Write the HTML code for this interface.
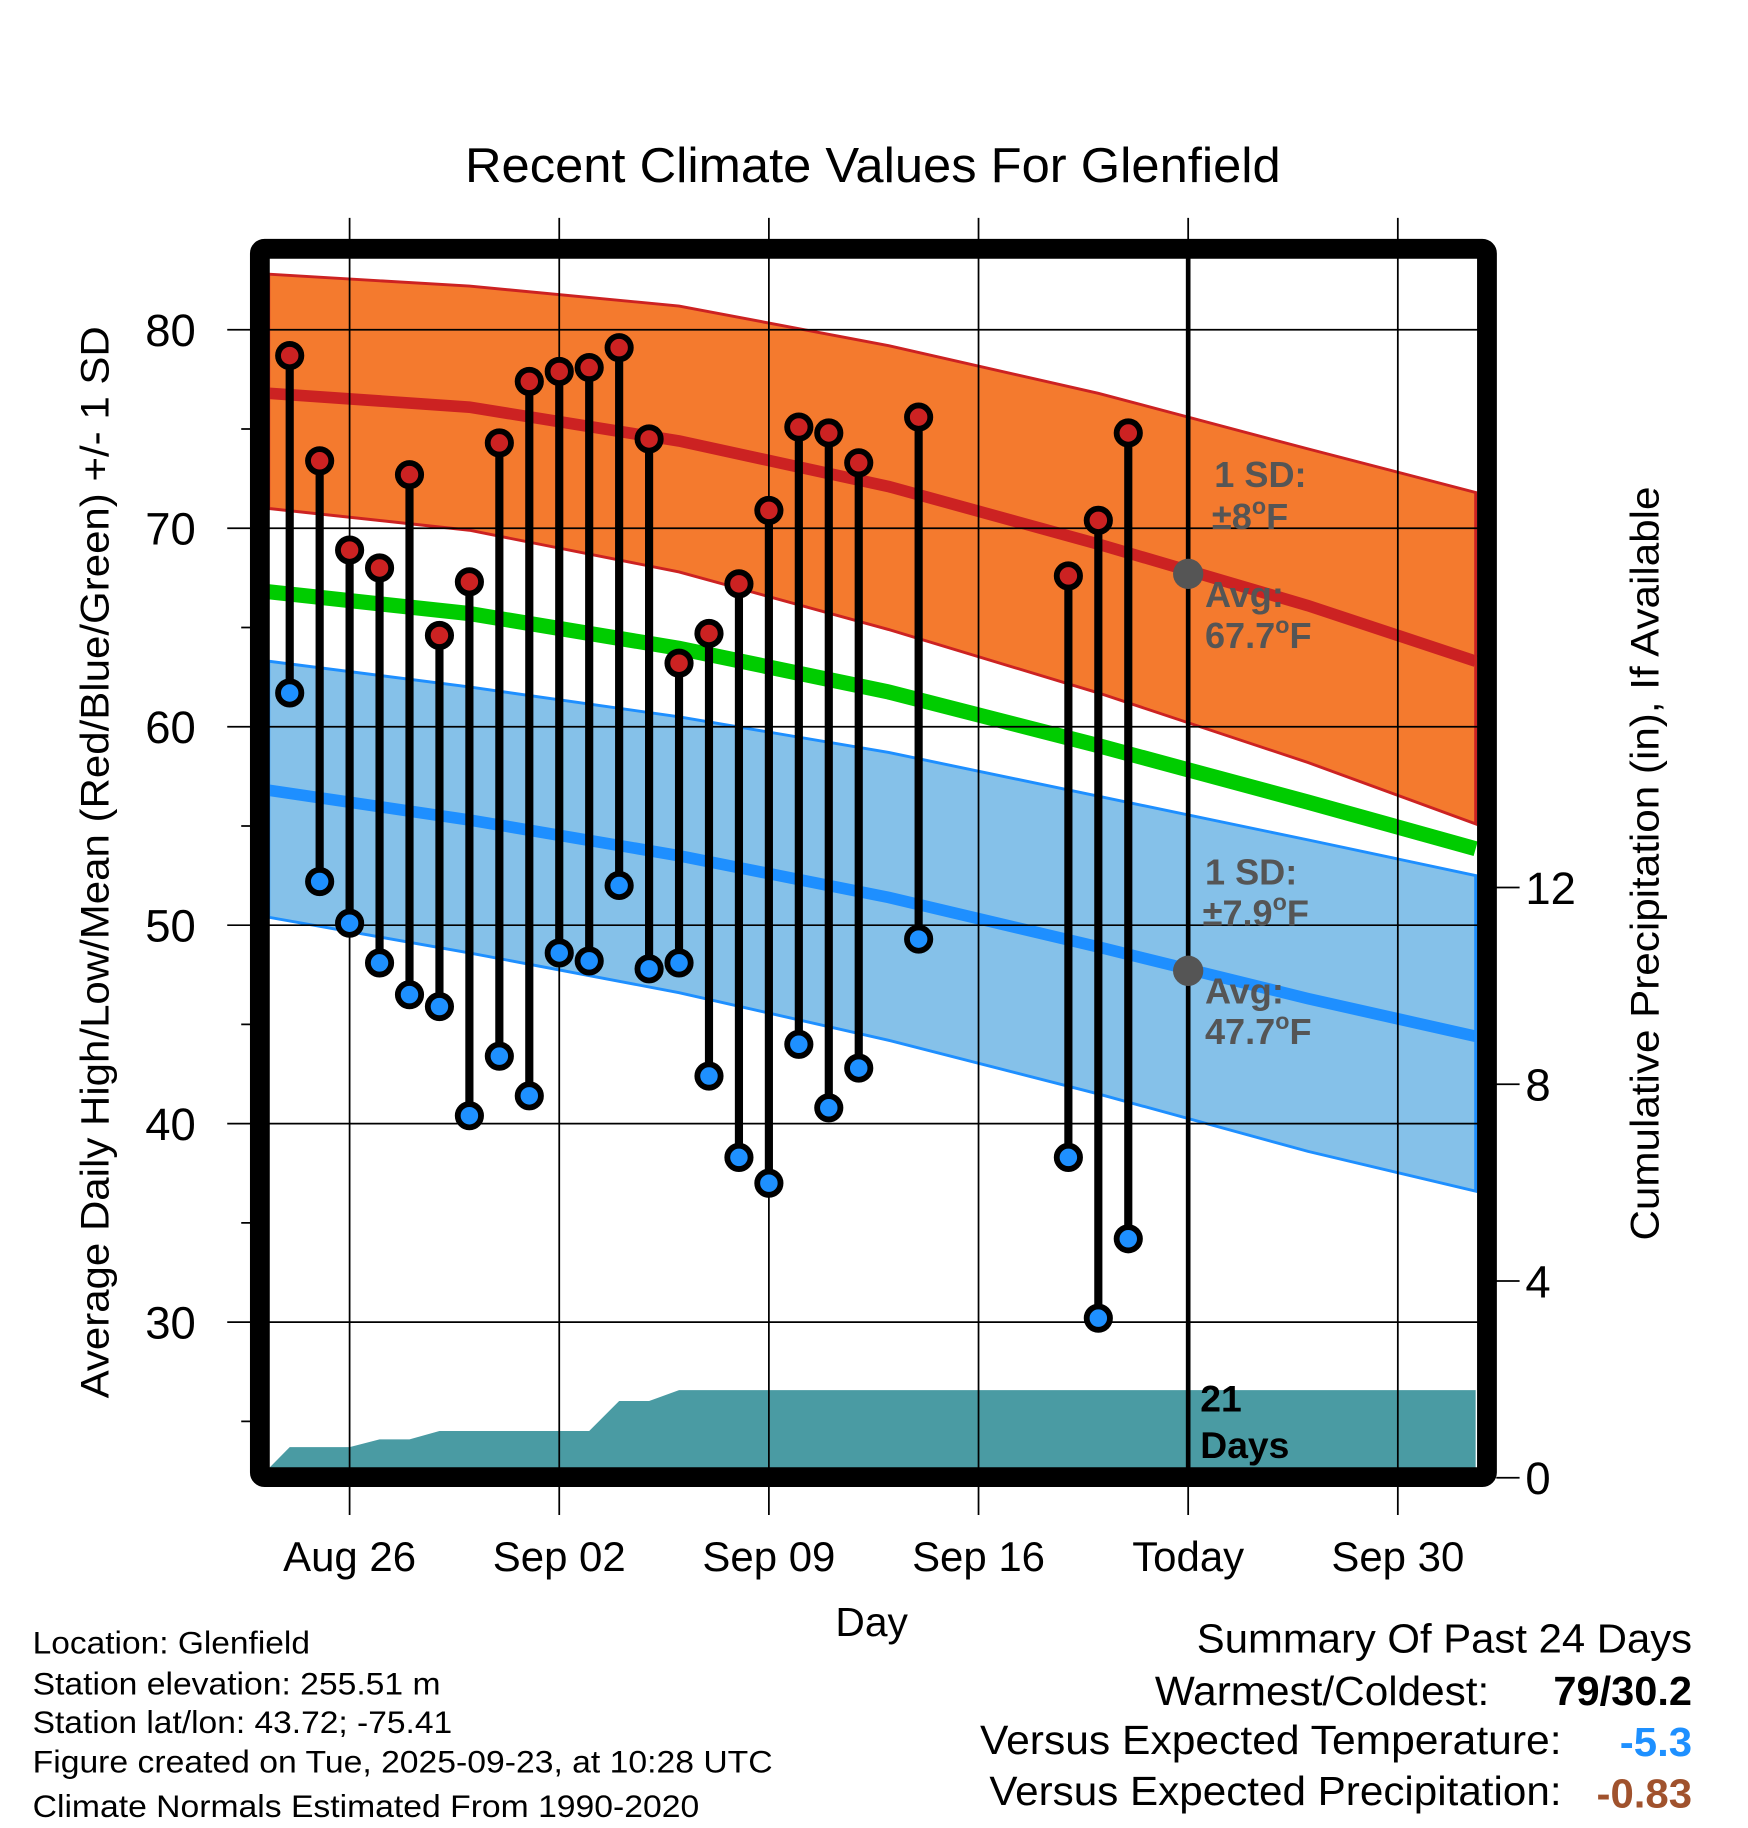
<!DOCTYPE html>
<html><head><meta charset="utf-8"><style>
html,body{margin:0;padding:0;background:#fff}
svg{display:block}
text{font-family:"Liberation Sans",Arial,sans-serif}
</style></head><body>
<svg id="chart" width="1748" height="1828" viewBox="0 0 1500 1568.6" preserveAspectRatio="none" xmlns="http://www.w3.org/2000/svg">
<text x="399" y="156" font-size="42" textLength="700" lengthAdjust="spacingAndGlyphs">Recent Climate Values For Glenfield</text>
<g id="plot"></g>
<text transform="translate(93,740) rotate(-90)" font-size="34" text-anchor="middle" textLength="920" lengthAdjust="spacingAndGlyphs">Average Daily High/Low/Mean (Red/Blue/Green) +/- 1 SD</text>
<text transform="translate(1423,741) rotate(-90)" font-size="34" text-anchor="middle" textLength="647" lengthAdjust="spacingAndGlyphs">Cumulative Precipitation (in), If Available</text>
<text x="748" y="1404" font-size="35" text-anchor="middle">Day</text>
<g font-size="27">
<text x="28" y="1419" textLength="238" lengthAdjust="spacingAndGlyphs">Location: Glenfield</text>
<text x="28" y="1454" textLength="350" lengthAdjust="spacingAndGlyphs">Station elevation: 255.51 m</text>
<text x="28" y="1487" textLength="360" lengthAdjust="spacingAndGlyphs">Station lat/lon: 43.72; -75.41</text>
<text x="28" y="1521" textLength="635" lengthAdjust="spacingAndGlyphs">Figure created on Tue, 2025-09-23, at 10:28 UTC</text>
<text x="28" y="1559" textLength="572" lengthAdjust="spacingAndGlyphs">Climate Normals Estimated From 1990-2020</text>
</g>
<g font-size="35">
<text x="1027" y="1418" textLength="425" lengthAdjust="spacingAndGlyphs">Summary Of Past 24 Days</text>
<text x="991" y="1463" textLength="287" lengthAdjust="spacingAndGlyphs">Warmest/Coldest:</text>
<text x="1333" y="1463" font-weight="bold" textLength="119" lengthAdjust="spacingAndGlyphs">79/30.2</text>
<text x="841" y="1505" textLength="499" lengthAdjust="spacingAndGlyphs">Versus Expected Temperature:</text>
<text x="1390" y="1507" font-weight="bold" fill="#1e90ff" textLength="62" lengthAdjust="spacingAndGlyphs">-5.3</text>
<text x="849" y="1549" textLength="491" lengthAdjust="spacingAndGlyphs">Versus Expected Precipitation:</text>
<text x="1370" y="1551" font-weight="bold" fill="#a0522d" textLength="82" lengthAdjust="spacingAndGlyphs">-0.83</text>
</g>
</svg>
<script>
// Days are offsets from Aug 24
const obsDays=[0,1,2,3,4,5,6,7,8,9,10,11,12,13,14,15,16,17,18,19,21,26,27,28];
const highs=[78.7,73.4,68.9,68.0,72.7,64.6,67.3,74.3,77.4,77.9,78.1,79.1,74.5,63.2,64.7,67.2,70.9,75.1,74.8,73.3,75.6,67.6,70.4,74.8];
const lows=[61.7,52.2,50.1,48.1,46.5,45.9,40.4,43.4,41.4,48.6,48.2,52.0,47.8,48.1,42.4,38.3,37.0,44.0,40.8,42.8,49.3,38.3,30.2,34.2];
const normDays=[-0.7,6,13,20,27,34,39.6];
const normHigh=[76.8,76.1,74.4,72.1,69.2,66.1,63.3];
const normHighUp=[82.8,82.2,81.2,79.2,76.8,74.0,71.8];
const normHighDn=[71.0,69.9,67.8,64.9,61.7,58.2,55.1];
const normLow=[56.8,55.3,53.5,51.4,48.9,46.3,44.4];
const normLowUp=[63.3,62.0,60.5,58.7,56.5,54.3,52.5];
const normLowDn=[50.4,48.6,46.6,44.2,41.5,38.6,36.6];
const precipDays=[-0.7,0,1,2,3,4,5,10,11,12,13,39.6];
const precipVals=[0.19,0.62,0.62,0.62,0.78,0.78,0.95,0.95,1.56,1.56,1.78,1.78];
const xTickDays=[2,9,16,23,30,37];
const xTickLabels=["Aug 26","Sep 02","Sep 09","Sep 16","Today","Sep 30"];
const yTicks=[30,40,50,60,70,80];
const y2Ticks=[0,4,8,12];
const todayDay=30, todayHigh=67.7, todayLow=47.7;

const X=d=>300+(d-2)*25.7;
const Y=v=>283+(80-v)*17.03;
const Y2=p=>1268-42.2*p;
const L=231,R=1268,T=220,B=1260;
const NS='http://www.w3.org/2000/svg';
const g=document.getElementById('plot');
function mk(tag,attrs,parent){const e=document.createElementNS(NS,tag);for(const k in attrs)e.setAttribute(k,attrs[k]);(parent||g).appendChild(e);return e;}
function pts(ds,vs,f){return ds.map((d,i)=>X(d).toFixed(1)+','+f(vs[i]).toFixed(1));}

const defs=mk('defs',{});
const cp=mk('clipPath',{id:'clip'},defs);mk('rect',{x:L,y:T,width:R-L,height:B-T},cp);
const clipG=mk('g',{'clip-path':'url(#clip)'});

let e=mk('polygon',{points:pts(normDays,normHighUp,Y).concat(pts(normDays,normHighDn,Y).reverse()).join(' '),fill:'#f47a2e',stroke:'#cc2222','stroke-width':2.5},clipG);

e=mk('polygon',{points:pts(normDays,normLowUp,Y).concat(pts(normDays,normLowDn,Y).reverse()).join(' '),fill:'#85c1e9',stroke:'#1e8fff','stroke-width':2.5},clipG);

const pp=pts(precipDays,precipVals,Y2);
e=mk('polygon',{points:[X(precipDays[0]).toFixed(1)+','+B].concat(pp).concat([X(precipDays[precipDays.length-1]).toFixed(1)+','+B]).join(' '),fill:'#4a9ba3'},clipG);

yTicks.forEach(v=>{const l=mk('line',{x1:195,x2:R,y1:Y(v),y2:Y(v),stroke:'#000','stroke-width':1.5});

const t=mk('text',{x:168,y:Y(v)+14,'font-size':39,'text-anchor':'end'});t.textContent=v;
});
[25,35,45,55,65,75].forEach(v=>{mk('line',{x1:207,x2:L,y1:Y(v),y2:Y(v),stroke:'#000','stroke-width':1.5});});
xTickDays.forEach((d,i)=>{const l=mk('line',{x1:X(d),x2:X(d),y1:187,y2:1300,stroke:'#000','stroke-width':1.5});

const t=mk('text',{x:X(d),y:1348,'font-size':36,'text-anchor':'middle'});t.textContent=xTickLabels[i];
});
y2Ticks.forEach(p=>{mk('line',{x1:1284,x2:1304,y1:Y2(p),y2:Y2(p),stroke:'#000','stroke-width':1.5});
const t=mk('text',{x:1309,y:Y2(p)+14,'font-size':39});t.textContent=p;
});
e=mk('polyline',{points:pts(normDays,normHigh,Y).join(' '),fill:'none',stroke:'#cc2222','stroke-width':10},clipG);

const normMean=normHigh.map((h,i)=>(h+normLow[i])/2);
e=mk('polyline',{points:pts(normDays,normMean,Y).join(' '),fill:'none',stroke:'#00cc00','stroke-width':13},clipG);

e=mk('polyline',{points:pts(normDays,normLow,Y).join(' '),fill:'none',stroke:'#1e8fff','stroke-width':10},clipG);

e=mk('line',{x1:X(todayDay),x2:X(todayDay),y1:T,y2:B,stroke:'#000','stroke-width':4});

function txt(x,y,s,size,fill,name){const t=mk('text',{x:x,y:y,'font-size':size,'font-weight':'bold',fill:fill});t.innerHTML=s;}
const deg='<tspan dy="-13" font-size="20">o</tspan><tspan dy="13">F</tspan>';
txt(1042,418,'1 SD:',31,'#555','high-sd-label');
txt(1040,454,'±8'+deg,31,'#555','high-sd-value');
txt(1034,521,'Avg:',31,'#555','high-avg-label');
txt(1034,556,'67.7'+deg,31,'#555','high-avg-value');
txt(1034,759,'1 SD:',31,'#555','low-sd-label');
txt(1032,794,'±7.9'+deg,31,'#555','low-sd-value');
txt(1034,861,'Avg:',31,'#555','low-avg-label');
txt(1034,896,'47.7'+deg,31,'#555','low-avg-value');
e=mk('circle',{cx:X(todayDay),cy:Y(todayHigh),r:13,fill:'#555'});
e=mk('circle',{cx:X(todayDay),cy:Y(todayLow),r:13,fill:'#555'});
txt(1030,1211,'21',32,'#000','days-count');
txt(1030,1251,'Days',32,'#000','days-label');
obsDays.forEach((d,i)=>{const x=X(d);
const s=mk('line',{x1:x,x2:x,y1:Y(highs[i]),y2:Y(lows[i]),stroke:'#000','stroke-width':7});

const h=mk('circle',{cx:x,cy:Y(highs[i]),r:10,fill:'#cc2222',stroke:'#000','stroke-width':5});

const lo=mk('circle',{cx:x,cy:Y(lows[i]),r:10,fill:'#1e90ff',stroke:'#000','stroke-width':5});
});
e=mk('rect',{x:223,y:213.5,width:1053,height:1054,fill:'none',stroke:'#000','stroke-width':17,rx:4});

</script>
</body></html>
